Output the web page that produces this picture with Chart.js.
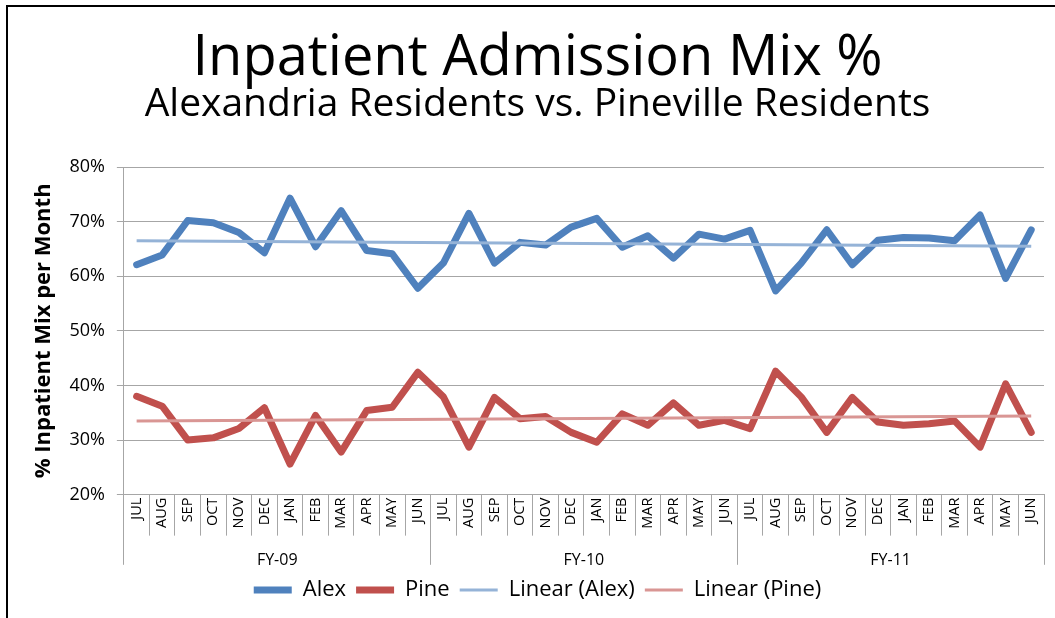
<!DOCTYPE html>
<html>
<head>
<meta charset="utf-8">
<title>Inpatient Admission Mix %</title>
<script src="https://cdn.jsdelivr.net/npm/chart.js@4.4.1/dist/chart.umd.min.js"></script>
<style>
    html, body { margin: 0; padding: 0; background: #fff; }
    #wrap { width: 1055px; height: 618px; position: relative; }
</style>
</head>
<body>
<div id="wrap"><canvas id="mixChart"></canvas></div>
<script>
// ===== data =====
const months = ['JUL', 'AUG', 'SEP', 'OCT', 'NOV', 'DEC', 'JAN', 'FEB', 'MAR', 'APR', 'MAY', 'JUN'];
const fiscalYears = ['FY-09', 'FY-10', 'FY-11'];

const alexValues = [
    62.1, 63.9, 70.2, 69.8, 68.0, 64.3, 74.3, 65.4, 72.0, 64.7, 64.1, 57.8,
    62.4, 71.5, 62.4, 66.2, 65.7, 69.0, 70.6, 65.3, 67.4, 63.3, 67.7, 66.8,
    68.4, 57.3, 62.4, 68.5, 62.1, 66.6, 67.1, 67.0, 66.5, 71.2, 59.6, 68.5
];
const pineValues = [
    38.0, 36.2, 30.0, 30.4, 32.1, 35.9, 25.6, 34.5, 27.8, 35.4, 36.0, 42.4,
    37.9, 28.7, 37.8, 33.9, 34.3, 31.4, 29.6, 34.8, 32.7, 36.8, 32.7, 33.6,
    32.1, 42.6, 37.9, 31.4, 37.8, 33.3, 32.7, 33.0, 33.5, 28.7, 40.3, 31.4
];
// trendline start / end values (first and last month)
const alexTrendEnds = [66.5, 65.5];
const pineTrendEnds = [33.5, 34.4];

const yTicks = { min: 20, max: 80, step: 10 };

// ===== build series =====
const labels = [];
fiscalYears.forEach(() => months.forEach(m => labels.push(m)));

function trendSeries(ends) {
    return labels.map((_, i) => i === 0 ? ends[0] : (i === labels.length - 1 ? ends[1] : null));
}

const FONT = '"Open Sans", Lato, sans-serif';
const GRID = '#a6a6a6';

// white page + black frame like the slide
const framePlugin = {
    id: 'frame',
    beforeDraw(chart) {
        const c = chart.ctx;
        c.save();
        c.fillStyle = '#fff';
        c.fillRect(0, 0, chart.width, chart.height);
        c.restore();
    },
    afterDraw(chart) {
        const c = chart.ctx;
        c.save();
        c.fillStyle = '#000';
        c.fillRect(6, 5, 2, chart.height - 5);
        c.fillRect(6, 5, chart.width - 6, 2);
        c.restore();
    }
};

// blank axis title, only used to reserve height for labels drawn inside the tick marks
function spacer(top) {
    return { display: true, text: ' ', font: { size: 10, lineHeight: 1.2 }, padding: { top, bottom: 0 } };
}

new Chart(document.getElementById('mixChart').getContext('2d'), {
    type: 'line',
    data: {
        labels,
        datasets: [
            {
                label: 'Alex',
                data: alexValues,
                borderColor: '#4f81bd',
                backgroundColor: '#4f81bd',
                borderWidth: 7,
                borderCapStyle: 'round',
                borderJoinStyle: 'round',
                pointRadius: 0,
                tension: 0,
                order: 2
            },
            {
                label: 'Pine',
                data: pineValues,
                borderColor: '#c0504d',
                backgroundColor: '#c0504d',
                borderWidth: 7,
                borderCapStyle: 'round',
                borderJoinStyle: 'round',
                pointRadius: 0,
                tension: 0,
                order: 2
            },
            {
                label: 'Linear (Alex)',
                data: trendSeries(alexTrendEnds),
                borderColor: '#95b3d7',
                backgroundColor: '#95b3d7',
                borderWidth: 3,
                pointRadius: 0,
                spanGaps: true,
                order: 1
            },
            {
                label: 'Linear (Pine)',
                data: trendSeries(pineTrendEnds),
                borderColor: '#d99694',
                backgroundColor: '#d99694',
                borderWidth: 3,
                pointRadius: 0,
                spanGaps: true,
                order: 1
            }
        ]
    },
    options: {
        responsive: true,
        maintainAspectRatio: false,
        animation: false,
        layout: { padding: { left: 31, right: 11, top: 0, bottom: 7 } },
        scales: {
            y: {
                min: yTicks.min,
                max: yTicks.max,
                ticks: {
                    stepSize: yTicks.step,
                    callback: v => v + '%',
                    color: '#000',
                    font: { family: FONT, size: 18 },
                    padding: 12
                },
                grid: { color: GRID, tickLength: 7 },
                border: { color: GRID },
                title: {
                    display: true,
                    text: '% Inpatient Mix per Month',
                    color: '#000',
                    font: { family: FONT, size: 22, weight: 'bold' },
                    padding: { top: 0, bottom: 0 }
                }
            },
            x: {
                type: 'category',
                offset: true,
                grid: { offset: true, drawOnChartArea: false, tickLength: 41, color: GRID },
                border: { color: GRID },
                ticks: {
                    autoSkip: false,
                    minRotation: 90,
                    maxRotation: 90,
                    padding: -38,
                    color: '#000',
                    font: { family: FONT, size: 14.5 }
                },
                title: spacer(32)
            },
            x2: {
                type: 'category',
                position: 'bottom',
                labels: fiscalYears,
                offset: true,
                grid: { offset: true, drawOnChartArea: false, tickLength: 30, color: GRID },
                border: { display: false },
                ticks: {
                    padding: -14,
                    color: '#000',
                    font: { family: FONT, size: 16 }
                },
                title: spacer(1)
            }
        },
        plugins: {
            title: {
                display: true,
                text: 'Inpatient Admission Mix %',
                color: '#000',
                font: { family: FONT, size: 56, weight: 'normal', lineHeight: 1 },
                padding: { top: 31, bottom: 0 }
            },
            subtitle: {
                display: true,
                text: 'Alexandria Residents vs. Pineville Residents',
                color: '#000',
                font: { family: FONT, size: 39, weight: 'normal', lineHeight: 1 },
                padding: { top: -2, bottom: 43 }
            },
            legend: {
                position: 'bottom',
                labels: {
                    usePointStyle: true,
                    pointStyle: 'line',
                    pointStyleWidth: 38,
                    color: '#000',
                    font: { family: FONT, size: 22 },
                    padding: 10,
                    sort: (a, b) => a.datasetIndex - b.datasetIndex
                }
            },
            tooltip: { enabled: false }
        }
    },
    plugins: [framePlugin]
});
</script>
</body>
</html>
